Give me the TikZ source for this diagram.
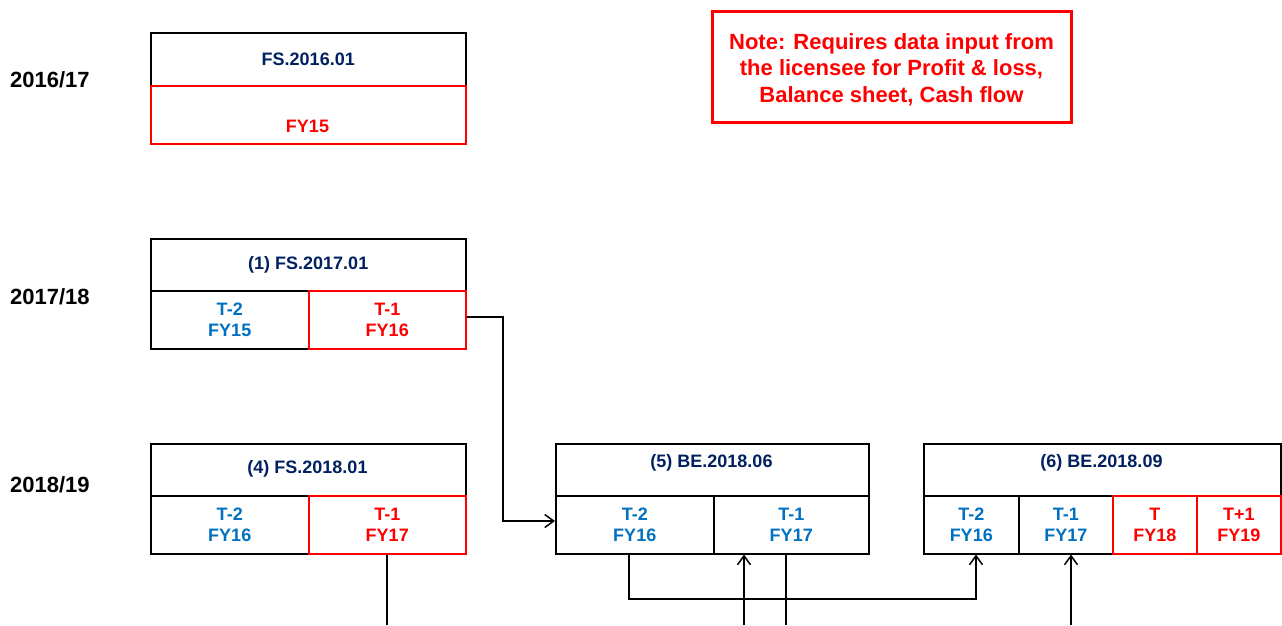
\documentclass[tikz,border=0pt]{standalone}
\usepackage{fontspec}
\setmainfont{Liberation Sans}
\usetikzlibrary{arrows.meta}
\definecolor{navy}{HTML}{002060}
\definecolor{blu}{HTML}{0070C0}
\definecolor{rd}{HTML}{FF0000}
\tikzset{
  boxbase/.style={draw=black, line width=1.5pt, inner sep=0pt, anchor=north west, align=center, font=\fontsize{18}{21}\selectfont\bfseries},
  hdr/.style={boxbase, text=navy, minimum height=52pt},
  hdrtxt/.style={inner sep=0pt, text=navy, font=\fontsize{18}{21}\selectfont\bfseries},
  bcell/.style={boxbase, text=blu, minimum height=58pt},
  rcell/.style={boxbase, draw=rd, text=rd, minimum height=58pt},
  yearlbl/.style={anchor=west, inner sep=0pt, font=\fontsize{22}{26}\selectfont\bfseries},
  notebox/.style={draw=rd, line width=3pt, inner sep=0pt, minimum width=359pt, minimum height=111pt},
  notetxt/.style={text=rd, align=center, inner sep=0pt, font=\fontsize{22}{26.5}\selectfont\bfseries},
  conn/.style={draw=black, line width=1.5pt},
  arr/.style={conn, -{Straight Barb[length=9pt, width=13pt, line width=1.5pt]}}
}
\begin{document}
\begin{tikzpicture}[x=1pt, y=-1pt]
\useasboundingbox (0,0) rectangle (1282,625);

% year labels
\node[yearlbl] (y1) at (10,80) {2016/17};
\node[yearlbl] (y2) at (10,297) {2017/18};
\node[yearlbl] (y3) at (10,485) {2018/19};

% note
\node[notebox] (note) at (891.5,66.5) {};
\node[notetxt] (notet) at (891.5,69.5) {Note: Requires data input from\\the licensee for Profit \& loss,\\Balance sheet, Cash flow};

% FS.2016.01
\node[hdr, minimum width=315pt, minimum height=53pt] (h0) at (150,32) {FS.2016.01};
\node[rcell, minimum width=315pt] (c0) at (150,85) {};
\node[hdrtxt, text=rd] (t0) at (307.5,126) {FY15};

% (1) FS.2017.01
\node[hdr, minimum width=315pt] (h1) at (150,238) {(1) FS.2017.01};
\node[bcell, minimum width=158pt] (c1a) at (150,290) {T-2\\FY15};
\node[rcell, minimum width=157pt] (c1b) at (308,290) {T-1\\FY16};

% (4) FS.2018.01
\node[hdr, minimum width=315pt] (h4) at (150,443) {};
\node[hdrtxt] (t4) at (307.5,469) {(4) FS.2018.01};
\node[bcell, minimum width=158pt] (c4a) at (150,495) {T-2\\FY16};
\node[rcell, minimum width=157pt] (c4b) at (308,495) {T-1\\FY17};

% (5) BE.2018.06
\node[hdr, minimum width=313pt] (h5) at (555,443) {};
\node[hdrtxt] (t5) at (711.5,463) {(5) BE.2018.06};
\node[bcell, minimum width=158pt] (c5a) at (555,495) {T-2\\FY16};
\node[bcell, minimum width=155pt] (c5b) at (713,495) {T-1\\FY17};

% (6) BE.2018.09
\node[hdr, minimum width=357pt] (h6) at (923,443) {};
\node[hdrtxt] (t6) at (1101.5,463) {(6) BE.2018.09};
\node[bcell, minimum width=95pt] (c6a) at (923,495) {T-2\\FY16};
\node[bcell, minimum width=94pt] (c6b) at (1018,495) {T-1\\FY17};
\node[rcell, minimum width=84pt] (c6c) at (1112,495) {T\\FY18};
\node[rcell, minimum width=84pt] (c6d) at (1196,495) {T+1\\FY19};

% connectors
\coordinate (k1) at (503,317);
\coordinate (k1b) at (503,521);
\draw[arr] (k1 -| c1b.east) -- (k1) -- (k1b) -- (k1b -| c5a.west);

\coordinate (e4) at (387,625);
\draw[conn] (e4 |- c4b.south) -- (e4);

\coordinate (k2) at (629,599);
\coordinate (k3) at (976,599);
\draw[arr] (k2 |- c5a.south) -- (k2) -- (k3) -- (k3 |- c6a.south);

\coordinate (b5) at (744,625);
\draw[arr] (b5) -- (b5 |- c5b.south);
\coordinate (e5) at (786,625);
\draw[conn] (e5 |- c5b.south) -- (e5);

\coordinate (b6) at (1071,625);
\draw[arr] (b6) -- (b6 |- c6b.south);
\end{tikzpicture}
\end{document}
